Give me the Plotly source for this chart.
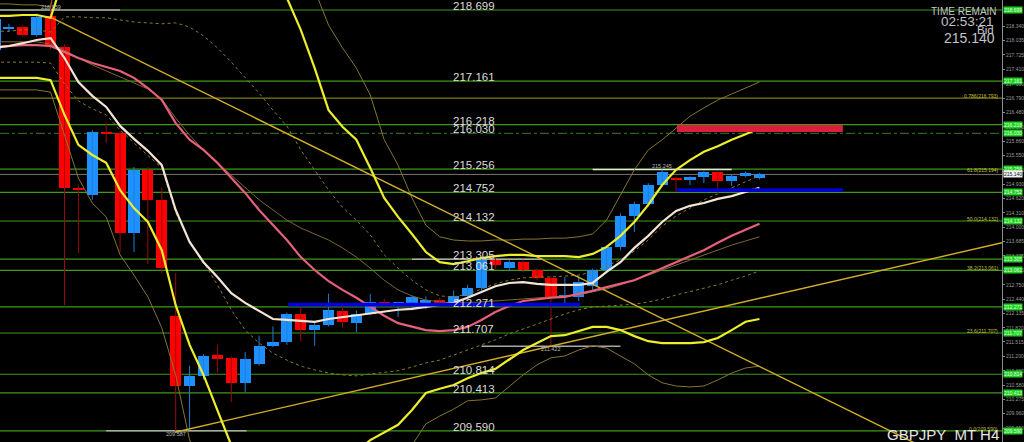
import plotly.graph_objects as go

# ---------------- data ----------------
idx = list(range(56))

opens = [217.83, 218.29, 218.33, 218.16, 218.57, 217.90, 214.85, 214.69, 216.06, 216.03,
         213.87, 215.24, 214.59, 212.08, 210.56, 210.78, 211.23, 211.17, 210.63, 211.04,
         211.43, 211.51, 212.12, 211.77, 211.88, 212.18, 211.92, 212.12, 212.38, 212.34,
         212.33, 212.29, 212.42, 212.33, 212.51, 212.68, 213.31, 213.11, 213.24, 213.07,
         212.90, 212.49, 212.49, 212.72, 213.07, 213.57, 214.24, 214.50, 214.91, 215.06,
         215.02, 215.08, 215.19, 214.99, 215.10, 215.06]
highs = [218.55, 218.40, 218.36, 218.62, 218.86, 217.95, 214.92, 216.10, 216.25, 216.08,
         215.30, 215.30, 214.85, 213.00, 211.00, 211.25, 211.45, 211.20, 211.30, 211.65,
         211.85, 212.15, 212.36, 211.92, 212.56, 212.28, 212.20, 212.55, 212.45, 212.38,
         212.52, 212.50, 212.47, 212.63, 212.75, 213.32, 213.34, 213.28, 213.30, 213.10,
         212.95, 212.92, 212.95, 213.10, 213.60, 214.30, 214.55, 214.95, 215.245, 215.08,
         215.10, 215.22, 215.21, 215.15, 215.20, 215.17]
lows = [217.70, 218.22, 218.12, 218.12, 217.85, 212.31, 213.44, 214.59, 215.82, 213.45,
        213.46, 213.20, 213.00, 209.59, 209.65, 210.70, 210.85, 210.21, 210.43, 211.00,
        211.40, 211.45, 211.52, 211.43, 211.85, 211.82, 211.73, 212.10, 212.28, 212.05,
        212.20, 212.22, 212.28, 212.28, 212.45, 212.62, 213.10, 213.05, 213.02, 212.85,
        211.42, 212.35, 212.40, 212.60, 213.00, 213.50, 213.89, 214.45, 214.88, 214.78,
        214.91, 214.95, 214.74, 214.89, 215.08, 215.03]
closes = [218.50, 218.33, 218.16, 218.55, 217.90, 214.85, 214.81, 216.06, 216.03, 213.87,
          215.24, 214.59, 213.11, 210.56, 210.78, 211.21, 211.14, 210.63, 211.14, 211.43,
          211.51, 212.12, 211.77, 211.88, 212.21, 211.95, 212.12, 212.38, 212.34, 212.36,
          212.49, 212.42, 212.33, 212.51, 212.68, 213.29, 213.18, 213.24, 213.07, 212.90,
          212.49, 212.51, 212.81, 213.07, 213.57, 214.24, 214.50, 214.91, 215.19, 215.02,
          215.09, 215.19, 214.99, 215.10, 215.17, 215.14]

ma_fast = [217.88, 217.92, 217.98, 218.05, 218.09, 217.66, 217.14, 216.84, 216.60, 216.19,
           215.91, 215.65, 215.34, 214.37, 213.68, 213.24, 212.92, 212.57, 212.36, 212.18,
           212.01, 211.99, 211.97, 211.95, 212.01, 212.05, 212.10, 212.14, 212.18, 212.21,
           212.23, 212.27, 212.31, 212.36, 212.47, 212.60, 212.72, 212.79, 212.81, 212.77,
           212.75, 212.75, 212.75, 212.79, 213.03, 213.24, 213.55, 213.81, 214.11, 214.35,
           214.46, 214.52, 214.61, 214.67, 214.76, 214.85]
ma_mid = [217.90, 217.92, 217.94, 217.94, 217.92, 217.79, 217.66, 217.55, 217.46, 217.38,
          217.23, 217.01, 216.75, 216.25, 215.89, 215.67, 215.39, 215.06, 214.74, 214.37,
          214.05, 213.72, 213.35, 213.07, 212.83, 212.64, 212.47, 212.27, 212.08, 211.92,
          211.84, 211.77, 211.75, 211.77, 211.84, 211.99, 212.16, 212.29, 212.40, 212.44,
          212.47, 212.49, 212.55, 212.62, 212.70, 212.77, 212.85, 212.98, 213.11, 213.24,
          213.37, 213.50, 213.66, 213.81, 213.94, 214.07]
ma_slow = [218.01, 218.01, 218.01, 218.01, 217.96, 217.83, 217.66, 217.51, 217.38, 217.25,
           217.12, 216.99, 216.77, 216.36, 215.99, 215.67, 215.39, 215.13, 214.85, 214.59,
           214.37, 214.15, 213.98, 213.85, 213.72, 213.55, 213.35, 213.11, 212.85, 212.64,
           212.51, 212.42, 212.38, 212.36, 212.36, 212.38, 212.40, 212.42, 212.44, 212.47,
           212.49, 212.51, 212.53, 212.60, 212.66, 212.75, 212.85, 212.96, 213.07, 213.18,
           213.29, 213.40, 213.50, 213.61, 213.70, 213.79]
bb_up2 = [218.57, 218.57, 218.59, 218.59, 218.53, 219.46, 219.89, 219.97, 220.04, 219.99,
          220.04, 220.11, 220.15, 220.19, 220.43, 220.65, 220.75, 220.82, 220.65, 220.32,
          219.89, 218.96, 218.27, 217.44, 216.53, 216.17, 215.89, 215.28, 214.63, 214.22,
          213.85, 213.46, 213.24, 213.20, 213.26, 213.33, 213.37, 213.40, 213.40, 213.37,
          213.37, 213.37, 213.35, 213.42, 213.57, 213.81, 214.11, 214.48, 214.91, 215.24,
          215.45, 215.63, 215.75, 215.89, 216.01, 216.14]
bb_lo2 = [217.23, 217.23, 217.23, 217.23, 217.18, 216.43, 215.78, 215.56, 215.39, 214.80,
          214.41, 214.11, 213.50, 212.31, 211.45, 210.80, 210.04, 209.28, 208.74, 208.57,
          208.48, 208.48, 208.57, 208.66, 208.81, 208.96, 209.13, 209.39, 209.56, 209.72,
          210.04, 210.41, 210.50, 210.58, 210.73, 210.84, 210.93, 211.14, 211.34, 211.49,
          211.64, 211.66, 211.75, 211.84, 211.84, 211.77, 211.64, 211.53, 211.49, 211.49,
          211.49, 211.51, 211.60, 211.77, 211.95, 212.01]
bb_up3 = [218.83, 218.83, 218.81, 218.81, 218.76, 220.30, 220.90, 221.10, 221.30, 221.30,
          221.40, 221.60, 221.80, 222.20, 222.60, 223.00, 223.10, 223.20, 223.00, 222.60,
          222.00, 221.40, 220.60, 219.13, 218.37, 217.88, 217.44, 216.86, 215.89, 215.34,
          214.63, 214.04, 213.79, 213.72, 213.70, 213.70, 213.72, 213.72, 213.74, 213.74,
          213.76, 213.76, 213.79, 213.85, 214.15, 214.69, 215.24, 215.67, 215.89, 216.14,
          216.40, 216.58, 216.75, 216.88, 217.01, 217.14]
bb_lo3 = [216.97, 216.97, 216.97, 216.97, 216.92, 215.99, 215.06, 214.52, 214.22, 213.40,
          212.96, 212.49, 211.82, 210.80, 209.39, 208.90, 208.50, 208.10, 207.70, 207.50,
          207.40, 207.40, 207.50, 207.60, 207.80, 208.00, 208.20, 208.50, 208.80, 209.10,
          209.28, 209.74, 209.91, 210.06, 210.24, 210.26, 210.30, 210.56, 210.80, 211.02,
          211.17, 211.21, 211.34, 211.43, 211.38, 211.21, 211.04, 210.80, 210.63, 210.56,
          210.54, 210.56, 210.69, 210.84, 210.95, 210.99]
bb_up1 = [218.24, 218.24, 218.27, 218.27, 218.22, 218.55, 218.55, 218.53, 218.53, 218.48,
          218.44, 218.42, 218.40, 218.42, 218.33, 218.14, 217.88, 217.57, 217.23, 216.90,
          216.53, 216.19, 215.67, 215.24, 214.80, 214.43, 214.15, 213.83, 213.40, 213.11,
          212.85, 212.64, 212.51, 212.49, 212.55, 212.66, 212.77, 212.85, 212.90, 212.92,
          212.92, 212.94, 212.96, 213.03, 213.16, 213.29, 213.48, 213.72, 214.02, 214.24,
          214.41, 214.59, 214.72, 214.85, 214.98, 215.11]
bb_lo1 = [217.57, 217.57, 217.57, 217.57, 217.55, 217.10, 216.73, 216.56, 216.43, 216.10,
          215.82, 215.56, 215.28, 214.31, 213.68, 213.24, 212.75, 212.21, 211.77, 211.49,
          211.27, 211.12, 210.99, 210.91, 210.84, 210.80, 210.78, 210.82, 210.86, 210.89,
          210.97, 211.06, 211.12, 211.23, 211.34, 211.45, 211.56, 211.69, 211.79, 211.90,
          212.01, 212.12, 212.21, 212.27, 212.29, 212.31, 212.33, 212.38, 212.44, 212.53,
          212.60, 212.68, 212.75, 212.85, 212.94, 213.05]

# trend lines (candle index, price)
trend_down_x = [4.1, 67.5]
trend_down_y = [218.53, 209.13]
trend_up_x = [12.95, 72.45]
trend_up_y = [209.56, 213.66]

# horizontal price levels
levels = [218.699, 217.161, 216.218, 216.030, 215.256, 214.752, 214.132,
          213.305, 213.061, 212.271, 211.707, 210.814, 210.413, 209.590]
fib_levels = [216.793, 215.194, 214.132, 213.061, 211.707, 209.590]
fib_names = ["0.786", "61.8", "50.0", "38.2", "23.6", "0.0"]
bid_price = 215.140

# short high/low marker segments
seg_price = [218.699, 209.590, 213.305, 211.422, 215.245]
seg_start = [0.3, 8.0, 30.0, 35.0, 43.0]
seg_end = [9.0, 18.1, 39.4, 45.0, 53.0]

# zones
zone_x0 = [49.06, 49.06, 21.1]
zone_x1 = [61.0, 61.0, 42.1]
zone_lo = [216.06, 214.76, 212.28]
zone_hi = [216.21, 214.84, 212.36]
zone_col = ["#dc1e3c", "#0000cd", "#0000e0"]

# price marks text
mark_x = [4, 13, 40, 48]
mark_y = [218.859, 209.587, 211.422, 215.245]

axis_ticks = [218.340, 218.035, 217.725, 217.410, 217.100, 216.790, 216.480, 216.170,
              215.860, 215.550, 215.240, 214.930, 214.620, 214.310, 214.000, 213.685,
              213.375, 213.065, 212.750, 212.440, 212.135, 211.820, 211.515, 211.200,
              210.890, 210.580, 210.275, 209.960, 209.650, 209.345]

Y_RANGE = [209.348, 218.915]
X_RANGE = [0.36, 72.45]

FONT = "Liberation Sans"
GREEN = "#3f9a16"

fig = go.Figure()

# levels as lines
for lv in levels:
    if lv == 216.030:
        fig.add_hline(y=lv, line=dict(color="#3a7e2a", width=1, dash="dashdot"), layer="below")
    else:
        fig.add_hline(y=lv, line=dict(color=GREEN, width=1.2), layer="below")
fig.add_hline(y=fib_levels[0], line=dict(color="#7c7c12", width=1.2), layer="below")
fig.add_hline(y=bid_price, line=dict(color="#7a766a", width=1), layer="below")

# zones
for x0, x1, lo, hi, c in zip(zone_x0, zone_x1, zone_lo, zone_hi, zone_col):
    fig.add_shape(type="rect", xref="x", yref="y", x0=x0, x1=x1, y0=lo, y1=hi,
                  fillcolor=c, line=dict(width=0), layer="above")

# high/low segments
for p, s, e in zip(seg_price, seg_start, seg_end):
    col = "#e6e6d2" if p == 215.245 else "#a8a8a8"
    fig.add_trace(go.Scatter(x=[s, e], y=[p, p], mode="lines",
                             line=dict(color=col, width=1.5), hoverinfo="skip"))

# candles
bull = [i for i in idx if closes[i] >= opens[i]]
bear = [i for i in idx if closes[i] < opens[i]]


def wicks(sel):
    xs, ys = [], []
    for i in sel:
        xs += [idx[i], idx[i], None]
        ys += [lows[i], highs[i], None]
    return xs, ys


wx, wy = wicks(bull)
fig.add_trace(go.Scatter(x=wx, y=wy, mode="lines", line=dict(color="#1e7fd8", width=1),
                         hoverinfo="skip"))
wx, wy = wicks(bear)
fig.add_trace(go.Scatter(x=wx, y=wy, mode="lines", line=dict(color="#9a0c0c", width=1),
                         hoverinfo="skip"))
fig.add_trace(go.Bar(x=[idx[i] for i in bull], y=[closes[i] - opens[i] for i in bull],
                     base=[opens[i] for i in bull], width=0.8,
                     marker=dict(color="#1e90ff", line=dict(width=0)), hoverinfo="skip"))
fig.add_trace(go.Bar(x=[idx[i] for i in bear], y=[opens[i] - closes[i] for i in bear],
                     base=[closes[i] for i in bear], width=0.8,
                     marker=dict(color="#ff0000", line=dict(width=0)), hoverinfo="skip"))

# indicators
def line(y, color, width, dash="solid"):
    fig.add_trace(go.Scatter(x=idx, y=y, mode="lines", hoverinfo="skip",
                             line=dict(color=color, width=width, dash=dash)))


line(bb_up1, "#8a7a30", 1, "dot")
line(bb_lo1, "#8a7a30", 1, "dot")
line(bb_up3, "#857533", 1)
line(bb_lo3, "#857533", 1)
line(ma_slow, "#7d6630", 1)
fig.add_trace(go.Scatter(x=trend_down_x, y=trend_down_y, mode="lines", hoverinfo="skip",
                         line=dict(color="#d2ae28", width=1.4)))
fig.add_trace(go.Scatter(x=trend_up_x, y=trend_up_y, mode="lines", hoverinfo="skip",
                         line=dict(color="#d2ae28", width=1.4)))
line(ma_mid, "#e65f7d", 2.2)
line(ma_fast, "#f3e4d6", 2.2)
line(bb_up2, "#eeee2a", 2.2)
line(bb_lo2, "#eeee2a", 2.2)

annotations = []
# center level labels
for lv in levels:
    annotations.append(dict(x=452 / 1002, xref="paper", y=lv, yref="y", xanchor="left",
                            yanchor="bottom", yshift=-3, text=f"{lv:.3f}", showarrow=False,
                            borderpad=0,
                            font=dict(family=FONT, size=11.5, color="#dcdcdc")))
# right price boxes
for lv in levels:
    annotations.append(dict(x=1, xref="paper", y=lv, yref="y", xanchor="left", xshift=1,
                            yanchor="middle", text=f"{lv:.3f}", showarrow=False,
                            bgcolor="#1fcf1f", borderpad=0,
                            font=dict(family=FONT, size=5, color="#e8ffe8")))
annotations.append(dict(x=1, xref="paper", y=bid_price, yref="y", xanchor="left", xshift=1,
                        yanchor="middle", text=f"{bid_price:.3f}", showarrow=False,
                        bgcolor="#f0f0f0", borderpad=0,
                        font=dict(family=FONT, size=5, color="#202020")))
# fib labels
for lv, nm in zip(fib_levels, fib_names):
    annotations.append(dict(x=1, xref="paper", y=lv, yref="y", xanchor="right", xshift=-2,
                            yanchor="bottom", yshift=-3, text=f"{nm}({lv:.3f})", showarrow=False,
                            font=dict(family=FONT, size=5, color="#c8c040")))
# small price marks
for mx, my in zip(mark_x, mark_y):
    if my > 218:
        ys = -4
    elif my > 214:
        ys = 4
    else:
        ys = -3
    annotations.append(dict(x=mx, xref="x", y=my, yref="y", text=f"{my:.3f}",
                            showarrow=False, yanchor="middle", yshift=ys,
                            font=dict(family=FONT, size=5.5, color="#b8b8b8")))
# top right info
info = [("TIME REMAIN", 11, 10, 998), ("02:53:21", 21, 13.5, 995),
        ("Bid", 30, 11.5, 995), ("215.140", 38, 14, 996)]
for t, py, sz, px in info:
    annotations.append(dict(x=px / 1002, xref="paper", y=1 - py / 442, yref="paper",
                            xanchor="right", yanchor="middle", text=t, showarrow=False,
                            borderpad=0,
                            font=dict(family=FONT, size=sz, color="#c4c4c4")))
annotations.append(dict(x=1000 / 1002, xref="paper", y=1 - 434 / 442, yref="paper",
                        xanchor="right", yanchor="middle", text="GBPJPY_MT H4", showarrow=False,
                        borderpad=0,
                        font=dict(family=FONT, size=15, color="#e6e6e6")))

fig.update_layout(
    width=1024, height=442,
    margin=dict(l=0, r=22, t=0, b=0, pad=0),
    paper_bgcolor="#000000", plot_bgcolor="#000000",
    showlegend=False, barmode="overlay", bargap=0,
    annotations=annotations,
    xaxis=dict(range=X_RANGE, visible=False, showgrid=False, zeroline=False, fixedrange=True),
    yaxis=dict(range=Y_RANGE, side="right", showgrid=False, zeroline=False,
               tickvals=axis_ticks, ticktext=[f"{v:.3f}" for v in axis_ticks],
               tickfont=dict(family=FONT, size=5, color="#9a9a9a"),
               ticks="outside", ticklen=2, tickcolor="#8c8c8c",
               showline=True, linecolor="#8c8c8c", linewidth=1, automargin=False),
)

fig.write_html("out.html", config={"displayModeBar": False},
               post_script="document.body.style.margin='0';"
                           "document.body.style.overflow='hidden';"
                           "document.body.style.background='#000';")
